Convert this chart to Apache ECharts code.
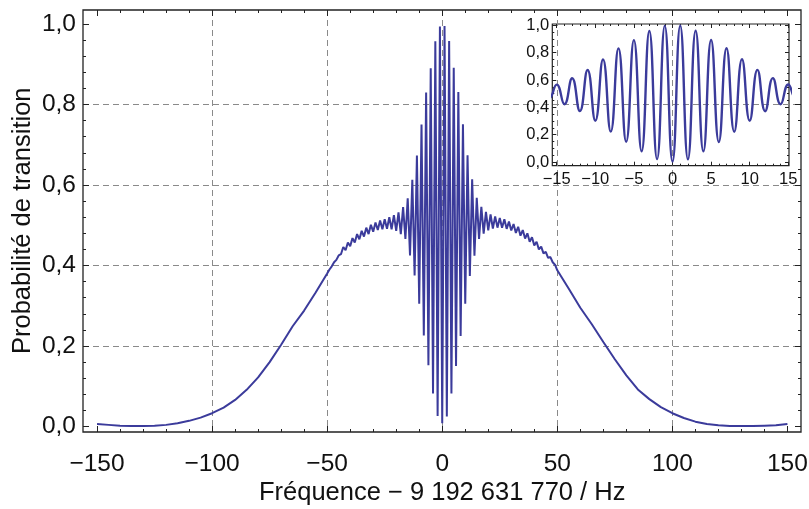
<!DOCTYPE html>
<html>
<head>
<meta charset="utf-8">
<script src="https://cdn.jsdelivr.net/npm/echarts@6/dist/echarts.min.js"></script>
<style>
html,body{margin:0;padding:0;background:#fff;}
#chart{width:809px;height:509px;}
</style>
</head>
<body>
<div id="chart"></div>
<script>
// ---- Data ----
const wingFreqLeft = [-150,-145,-140,-135,-130,-125,-120,-115,-110,-105,-100,-95,-90,-85,-80,-75,-70,-65,-60,-55,-50];
const wingProbLeft = [0.006,0.004,0.002,0.001,0.001,0.002,0.004,0.008,0.014,0.022,0.033,0.047,0.066,0.091,0.122,0.160,0.203,0.249,0.288,0.333,0.380];

const centerFreq = [-49,-48,-47,-46,-45,-44,-43,-42,-41,-40,-39,-38,-37,-36,-35,-34,-33,-32,-31,-30,
  -29,-28,-27,-26,-25,-24,-23,-22,-21,-20,-19,-18,-17,-16,-15,-14,-13,-12,-11,-10,
  -9,-8,-7,-6,-5,-4,-3,-2,-1,0,1,2,3,4,5,6,7,8,9,
  10,11,12,13,14,15,16,17,18,19,20,21,22,23,24,25,26,27,28,29,
  30,31,32,33,34,35,36,37,38,39,40,41,42,43,44,45,46,47,48,49];
const centerProb = [0.390,0.398,0.408,0.414,0.425,0.428,0.446,0.438,0.457,0.448,0.468,0.457,0.478,0.465,0.486,0.472,0.494,0.478,0.501,0.484,
  0.507,0.488,0.512,0.490,0.515,0.491,0.520,0.490,0.525,0.486,0.532,0.478,0.545,0.466,0.567,0.425,0.613,0.375,0.673,0.305,
  0.750,0.226,0.830,0.152,0.890,0.082,0.957,0.026,0.994,0.008,0.995,0.025,0.958,0.082,0.891,0.150,0.831,0.225,0.751,
  0.305,0.674,0.374,0.614,0.424,0.568,0.466,0.546,0.479,0.533,0.487,0.527,0.492,0.522,0.494,0.518,0.494,0.515,0.491,0.509,
  0.487,0.503,0.481,0.496,0.474,0.488,0.467,0.480,0.459,0.470,0.450,0.459,0.440,0.447,0.430,0.434,0.419,0.421,0.408,0.402];

const wingFreqRight = [50,55,60,65,70,75,80,85,90,95,100,105,110,115,120,125,130,135,140,145,150];
const wingProbRight = [0.388,0.342,0.295,0.254,0.210,0.167,0.127,0.092,0.068,0.048,0.033,0.021,0.012,0.006,0.003,0.001,0.001,0.001,0.002,0.003,0.006];

const xTitle = 'Fréquence \u2212 9 192 631 770 / Hz';
const yTitle = 'Probabilité de transition';

// ---- Build series data ----
const pairs = (xs, ys) => xs.map((x, i) => [x, ys[i]]);
const mainData = [].concat(pairs(wingFreqLeft, wingProbLeft), pairs(centerFreq, centerProb), pairs(wingFreqRight, wingProbRight));
const insetData = pairs(centerFreq, centerProb);

const FONT = '"Liberation Sans", Arial, Helvetica, sans-serif';
const LINE = '#3b3b9b';
const FRAME = '#222';
const TXT = '#111';
const minusFmt = v => String(v).replace('-', '\u2212');
const commaFmt = v => v.toFixed(1).replace('.', ',');

const hidden = (gi, min, max) => ({gridIndex: gi, type: 'value', min, max, show: false, axisLine: {onZero: false}});
const tickAxis = (gi, pos, min, max, interval, offset, tlen, mlen, msplit, label) => ({
  gridIndex: gi, type: 'value', position: pos, min, max, interval, offset,
  axisLine: {show: false, onZero: false},
  axisTick: {show: true, inside: true, length: tlen, lineStyle: {color: FRAME, width: 1}},
  minorTick: {show: true, splitNumber: msplit, length: mlen, lineStyle: {color: FRAME, width: 1}},
  splitLine: {show: false},
  axisLabel: label ? label : {show: false},
  nameMoveOverlap: false
});
const gridAxis = (gi, min, max, interval) => ({
  gridIndex: gi, type: 'value', min, max, interval,
  axisLine: {show: false, onZero: false}, axisTick: {show: false}, axisLabel: {show: false},
  splitLine: {show: true, lineStyle: {type: [6, 4], color: '#8a8a8a', width: 1}}
});

const xAxes = [
  hidden(0, -156.1, 155.9),
  Object.assign(tickAxis(1, 'bottom', -150, 150, 50, 5.5, 6, 3, 5,
    {show: true, margin: 20, fontSize: 24.5, color: TXT, fontFamily: FONT, formatter: minusFmt}),
    {name: xTitle, nameLocation: 'middle', nameGap: 48,
     nameTextStyle: {fontSize: 25.5, color: TXT, fontFamily: FONT}}),
  tickAxis(1, 'top', -150, 150, 50, 14, 6, 3, 5, null),
  gridAxis(2, -100, 100, 50),
  hidden(3, 0, 1),
  hidden(4, -15.57, 15.09),
  tickAxis(5, 'bottom', -15, 15, 5, 3.7, 4, 2, 5,
    {show: true, margin: 5.5, fontSize: 16.5, color: TXT, fontFamily: FONT, formatter: minusFmt}),
  tickAxis(5, 'top', -15, 15, 5, 1.3, 4, 2, 5, null)
];
const yAxes = [
  hidden(0, -0.0137, 1.0348),
  Object.assign(tickAxis(1, 'left', 0, 1, 0.2, 14, 6, 3, 5,
    {show: true, margin: 7, fontSize: 24.5, color: TXT, fontFamily: FONT, formatter: commaFmt}),
    {name: yTitle, nameLocation: 'middle', nameGap: 47, nameRotate: 90,
     nameTextStyle: {fontSize: 25.5, color: TXT, fontFamily: FONT, padding: [0, 0, 0, 9]}}),
  tickAxis(1, 'right', 0, 1, 0.2, 13.6, 6, 3, 5, null),
  hidden(2, 0, 1),
  gridAxis(3, 0.2, 0.8, 0.2),
  hidden(4, -0.0218, 1.0073),
  tickAxis(5, 'left', 0, 1, 0.2, 4.4, 4, 2, 4,
    {show: true, margin: 3, fontSize: 16.5, color: TXT, fontFamily: FONT, formatter: commaFmt}),
  tickAxis(5, 'right', 0, 1, 0.2, 0.7, 4, 2, 4, null)
];

const g = o => Object.assign({outerBoundsMode: 'none', containLabel: false}, o);
const option = {
  animation: false,
  backgroundColor: '#fff',
  grid: [
    g({left: 83, top: 10, width: 718, height: 422, show: true, borderColor: FRAME, borderWidth: 1.3, backgroundColor: 'transparent'}),
    g({left: 97, top: 24, width: 690.4, height: 402.5}),
    g({left: 212.1, top: 10, width: 460.3, height: 422}),
    g({left: 83, top: 104.5, width: 718, height: 241.5}),
    g({left: 552.3, top: 24, width: 236.7, height: 141.7, show: true, borderColor: FRAME, borderWidth: 1.2, backgroundColor: 'transparent'}),
    g({left: 556.7, top: 25.3, width: 231.6, height: 136.7})
  ],
  xAxis: xAxes,
  yAxis: yAxes,
  series: [
    {type: 'line', xAxisIndex: 0, yAxisIndex: 0, data: mainData, symbol: 'none', clip: true, z: 3,
     lineStyle: {color: LINE, width: 2}},
    {type: 'line', xAxisIndex: 5, yAxisIndex: 5, data: insetData, symbol: 'none', clip: true, z: 3,
     smooth: 0.5, lineStyle: {color: LINE, width: 2.4}}
  ]
};
const chart = echarts.init(document.getElementById('chart'), null, {renderer: 'canvas'});
chart.setOption(option);
</script>
</body>
</html>
